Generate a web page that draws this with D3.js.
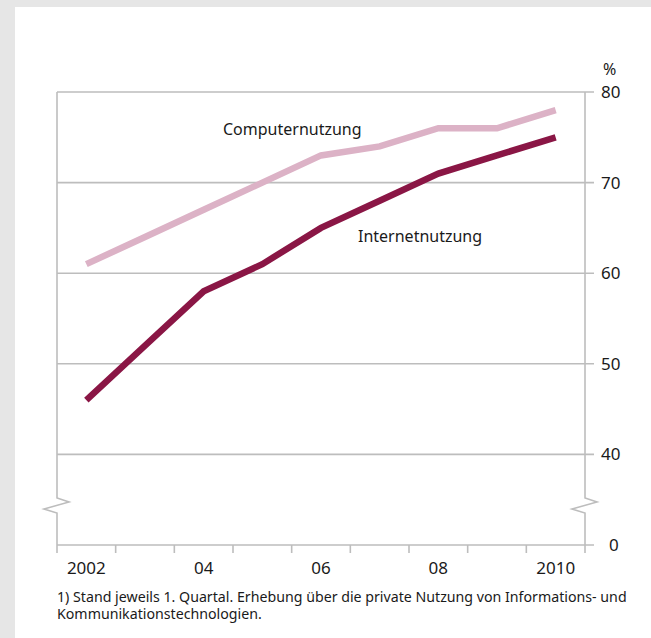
<!DOCTYPE html>
<html>
<head>
<meta charset="utf-8">
<script src="https://cdn.jsdelivr.net/npm/d3@7"></script>
<style>
  html, body { margin: 0; padding: 0; background: #e6e6e6; }
  svg { display: block; }
  text { font-family: "Noto Sans", "Open Sans", sans-serif; fill: #1a1a1a; }
</style>
</head>
<body>
<svg id="chart" width="651" height="638"></svg>
<script>
// Years (one band per year) and x-axis labels
const years = [2002, 2003, 2004, 2005, 2006, 2007, 2008, 2009, 2010];
const xLabels = { 2002: "2002", 2004: "04", 2006: "06", 2008: "08", 2010: "2010" };

// Share of persons using computer / internet, in %
const computerValues = [61, 64, 67, 70, 73, 74, 76, 76, 78];
const internetValues = [46, 52, 58, 61, 65, 68, 71, 73, 75];

// Y axis: broken axis, baseline labelled 0
const yTicks = [40, 50, 60, 70, 80];
const yBaseValue = 30;
const yBaseLabel = "0";
const yUnit = "%";

const seriesNames = ["Computernutzung", "Internetnutzung"];
const footnote = [
  "1) Stand jeweils 1. Quartal. Erhebung über die private Nutzung von Informations- und",
  "Kommunikationstechnologien."
];

const svg = d3.select("#chart");
const W = 651, H = 638;

// white panel
svg.append("rect").attr("x", 15).attr("y", 7).attr("width", W - 15).attr("height", H - 7).attr("fill", "#ffffff");

const plotL = 57, plotR = 585, plotT = 92, plotB = 545;
const x = d3.scaleBand().domain(years).range([plotL, plotR]).padding(0);
const y = d3.scaleLinear().domain([yBaseValue, 80]).range([plotB, plotT]);

const gridColor = "#bdbdbd";
const g = svg.append("g");

// horizontal gridlines (extend past right axis as ticks)
g.selectAll("line.grid").data(yTicks).join("line")
  .attr("x1", plotL).attr("x2", plotR + 9)
  .attr("y1", d => y(d)).attr("y2", d => y(d))
  .attr("stroke", gridColor).attr("stroke-width", 1.6);

// baseline
g.append("line").attr("x1", plotL).attr("x2", plotR + 9)
  .attr("y1", y(yBaseValue)).attr("y2", y(yBaseValue))
  .attr("stroke", gridColor).attr("stroke-width", 1.6);

// vertical axes with break marks
function brokenAxis(ax) {
  const p = d3.path();
  const yb = 498;
  p.moveTo(ax, plotT);
  p.lineTo(ax, yb);
  p.lineTo(ax + 12, yb + 4);
  p.lineTo(ax - 13, yb + 11);
  p.lineTo(ax, yb + 15);
  p.lineTo(ax, plotB);
  g.append("path").attr("d", p.toString()).attr("fill", "none")
    .attr("stroke", gridColor).attr("stroke-width", 1.6);
}
brokenAxis(plotL);
brokenAxis(plotR);

// x ticks at band boundaries
const boundaries = years.map(d => x(d)).concat([plotR]);
g.selectAll("line.xtick").data(boundaries).join("line")
  .attr("x1", d => d).attr("x2", d => d)
  .attr("y1", plotB).attr("y2", plotB + 8)
  .attr("stroke", gridColor).attr("stroke-width", 1.6);

// x labels
g.selectAll("text.xl").data(years.filter(d => xLabels[d])).join("text")
  .attr("x", d => x(d) + x.bandwidth() / 2)
  .attr("y", 574)
  .attr("text-anchor", "middle")
  .attr("font-size", 17)
  .text(d => xLabels[d]);

// y labels
g.selectAll("text.yl").data(yTicks).join("text")
  .attr("x", 601).attr("y", d => y(d))
  .attr("dy", "0.35em")
  .attr("font-size", 17)
  .text(d => d);
g.append("text").attr("x", 609).attr("y", y(yBaseValue)).attr("dy", "0.35em")
  .attr("font-size", 17).text(yBaseLabel);
g.append("text").attr("x", 603).attr("y", 75)
  .attr("font-size", 16).text(yUnit);

// lines
const line = d3.line()
  .x((d, i) => x(years[i]) + x.bandwidth() / 2)
  .y(d => y(d));

g.append("path").datum(computerValues).attr("d", line)
  .attr("fill", "none").attr("stroke", "#dcb2c6").attr("stroke-width", 6.5)
  .attr("stroke-linejoin", "miter");
g.append("path").datum(internetValues).attr("d", line)
  .attr("fill", "none").attr("stroke", "#8a1645").attr("stroke-width", 6.5)
  .attr("stroke-linejoin", "miter");

// series labels
g.append("text").attr("x", 223).attr("y", 135).attr("font-size", 16).text(seriesNames[0]);
g.append("text").attr("x", 358).attr("y", 242).attr("font-size", 16).text(seriesNames[1]);

// footnote
g.selectAll("text.fn").data(footnote).join("text")
  .attr("x", 57).attr("y", (d, i) => 601.5 + i * 17.5)
  .attr("font-size", 14.2)
  .text(d => d);
</script>
</body>
</html>
